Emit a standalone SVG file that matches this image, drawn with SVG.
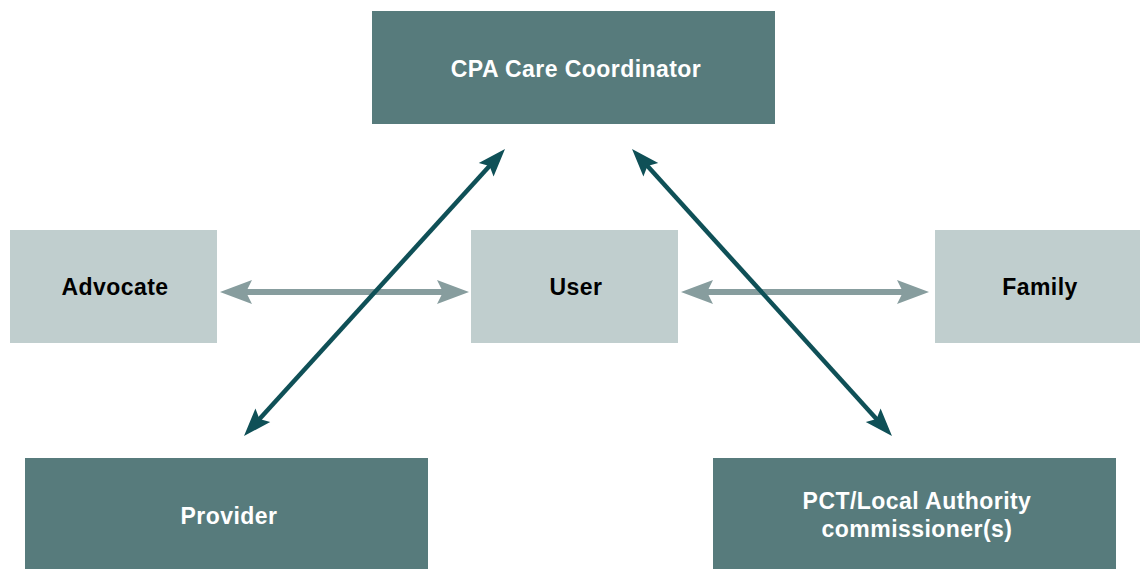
<svg xmlns="http://www.w3.org/2000/svg" width="1140" height="569" viewBox="0 0 1140 569">
  <style>
    .dark { fill: #577b7c; }
    .light { fill: #c0cece; }
    .lbl { font-family: "Liberation Sans", Arial, sans-serif; font-weight: bold; font-size: 23px; letter-spacing: 0.45px; text-anchor: middle; }
    .lbl-w { fill: #ffffff; }
    .lbl-b { fill: #000000; }
    .link-grey { stroke: #879d9e; stroke-width: 6; fill: none; marker-start: url(#head-grey); marker-end: url(#head-grey); }
    .link-dark { stroke: #0f5057; stroke-width: 4.5; fill: none; marker-start: url(#head-dark); marker-end: url(#head-dark); }
  </style>
  <defs>
    <marker id="head-grey" markerUnits="userSpaceOnUse" markerWidth="32" markerHeight="24" refX="12" refY="12" orient="auto-start-reverse" overflow="visible">
      <path d="M32,12 L0,0 L6,12 L0,24 Z" fill="#879d9e"/>
    </marker>
    <marker id="head-dark" markerUnits="userSpaceOnUse" markerWidth="28" markerHeight="20" refX="10" refY="10" orient="auto-start-reverse" overflow="visible">
      <path d="M28,10 L0,0 L5,10 L0,20 Z" fill="#0f5057"/>
    </marker>
  </defs>

  <rect width="1140" height="569" fill="#ffffff"/>

  <g id="cpa-care-coordinator">
    <rect class="dark" x="372" y="11" width="403" height="113"/>
    <text class="lbl lbl-w" x="576" y="77">CPA Care Coordinator</text>
  </g>
  <g id="advocate">
    <rect class="light" x="10" y="230" width="207" height="113"/>
    <text class="lbl lbl-b" x="115" y="295">Advocate</text>
  </g>
  <g id="user">
    <rect class="light" x="471" y="230" width="207" height="113"/>
    <text class="lbl lbl-b" x="576" y="295">User</text>
  </g>
  <g id="family">
    <rect class="light" x="935" y="230" width="205" height="113"/>
    <text class="lbl lbl-b" x="1040" y="295">Family</text>
  </g>
  <g id="provider">
    <rect class="dark" x="25" y="458" width="403" height="111"/>
    <text class="lbl lbl-w" x="229" y="524">Provider</text>
  </g>
  <g id="pct-commissioners">
    <rect class="dark" x="713" y="458" width="403" height="111"/>
    <text class="lbl lbl-w" x="917" y="509">PCT/Local Authority</text>
    <text class="lbl lbl-w" x="917" y="537">commissioner(s)</text>
  </g>

  <g id="connectors">
    <line class="link-grey" x1="240" y1="292" x2="449" y2="292"/>
    <line class="link-grey" x1="701" y1="292" x2="909" y2="292"/>
    <line class="link-dark" x1="492.9" y1="162.3" x2="256.1" y2="422.7"/>
    <line class="link-dark" x1="644.1" y1="162.3" x2="879.9" y2="422.7"/>
  </g>
</svg>
